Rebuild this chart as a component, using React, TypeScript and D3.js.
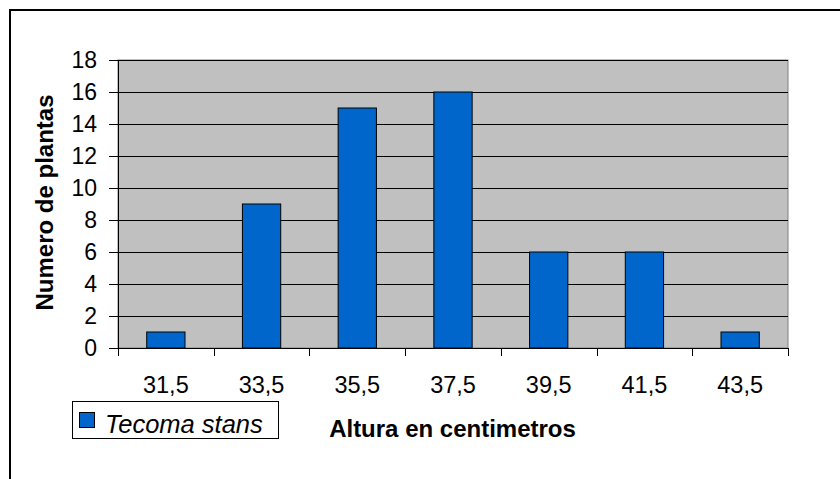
import React from "react";
import * as d3 from "d3";

const categories = ["31,5", "33,5", "35,5", "37,5", "39,5", "41,5", "43,5"];
const values = [1, 9, 15, 16, 6, 6, 1];
const yTicks = [0, 2, 4, 6, 8, 10, 12, 14, 16, 18];
const seriesName = "Tecoma stans";
const xTitle = "Altura en centimetros";
const yTitle = "Numero de plantas";

const W = 840;
const H = 479;
const L = 118, R = 788, T = 60, B = 348;

export default function App() {
  const x = d3.scaleBand<string>().domain(categories).range([L, R]).paddingInner(0.6).paddingOuter(0.3);
  const y = d3.scaleLinear().domain([0, 18]).range([B, T]);
  const step = x.step();
  const boundaries = d3.range(categories.length + 1).map((i) => L + i * step);
  const font = "Arial, 'Liberation Sans', sans-serif";

  return (
    <div style={{ position: "fixed", left: 0, top: 0 }}>
      <svg width={W} height={H} style={{ display: "block", background: "#fff" }}>
        <rect x={10} y={10} width={W + 10} height={H + 10} fill="#fff" stroke="#000" strokeWidth={2} />
        <rect x={L} y={T} width={R - L} height={B - T} fill="#C0C0C0" stroke="#808080" strokeWidth={1} />
        {yTicks.filter((t) => t > 0).map((t) => (
          <line key={"g" + t} x1={L} x2={R} y1={Math.round(y(t)) + 0.5} y2={Math.round(y(t)) + 0.5} stroke="#000" strokeWidth={1} />
        ))}
        {values.map((v, i) => (
          <rect
            key={"b" + i}
            x={(x(categories[i]) as number)}
            y={y(v)}
            width={x.bandwidth()}
            height={B - y(v)}
            fill="#0066CC"
            stroke="#000"
            strokeWidth={1}
          />
        ))}
        {/* y axis */}
        <line x1={L + 0.5} x2={L + 0.5} y1={T} y2={B} stroke="#000" strokeWidth={1} />
        {yTicks.map((t) => (
          <g key={"yt" + t}>
            <line x1={L - 9} x2={L} y1={Math.round(y(t)) + 0.5} y2={Math.round(y(t)) + 0.5} stroke="#000" strokeWidth={1} />
            <text x={97} y={y(t)} dy="0.36em" textAnchor="end" fontFamily={font} fontSize={23} fill="#000">
              {t}
            </text>
          </g>
        ))}
        {/* x axis */}
        <line x1={L} x2={R} y1={B + 0.5} y2={B + 0.5} stroke="#000" strokeWidth={1} />
        {boundaries.map((bx, i) => (
          <line key={"xt" + i} x1={Math.round(bx) + 0.5} x2={Math.round(bx) + 0.5} y1={B} y2={B + 8} stroke="#000" strokeWidth={1} />
        ))}
        {categories.map((c) => (
          <text key={"xl" + c} x={(x(c) as number) + x.bandwidth() / 2} y={392.5} textAnchor="middle" fontFamily={font} fontSize={23.5} fill="#000">
            {c}
          </text>
        ))}
        {/* titles */}
        <text x={452.5} y={436.5} textAnchor="middle" fontFamily={font} fontSize={24} fontWeight="bold" fill="#000">
          {xTitle}
        </text>
        <text
          transform={`translate(53,202.5) rotate(-90)`}
          textAnchor="middle"
          fontFamily={font}
          fontSize={24}
          fontWeight="bold"
          fill="#000"
        >
          {yTitle}
        </text>
        {/* legend */}
        <rect x={72.5} y={401.5} width={206} height={37} fill="#fff" stroke="#000" strokeWidth={1} />
        <rect x={79.5} y={412.5} width={15} height={15} fill="#0066CC" stroke="#000" strokeWidth={1} />
        <text x={105} y={433} fontFamily={font} fontSize={25.5} fontStyle="italic" fill="#000">
          {seriesName}
        </text>
      </svg>
    </div>
  );
}
